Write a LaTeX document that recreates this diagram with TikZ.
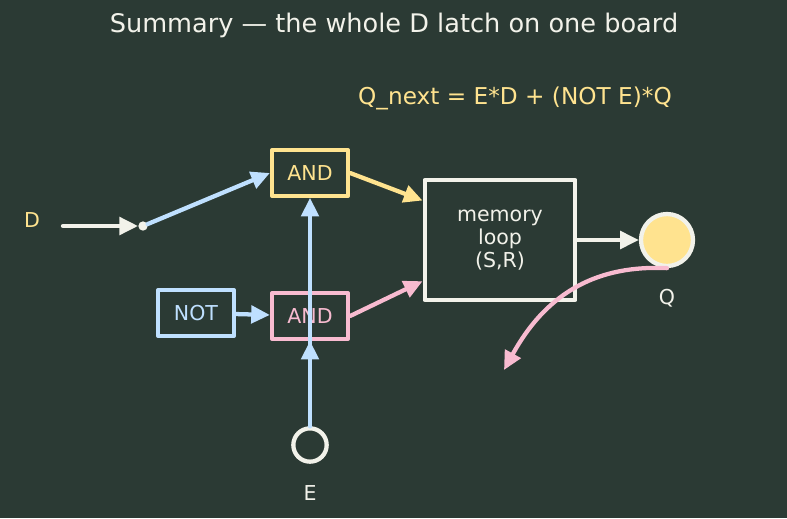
\documentclass[tikz,border=0pt]{standalone}
\usepackage{fontspec}
\setmainfont{DejaVu Sans}
\usetikzlibrary{arrows.meta}
\definecolor{board}{HTML}{2B3A34}
\definecolor{chalk}{HTML}{F2F2EA}
\definecolor{wire}{HTML}{BFE0FF}
\definecolor{gold}{HTML}{FFE38F}
\definecolor{rose}{HTML}{F8BBD0}
\tikzset{
  gate/.style={draw,line width=3.2pt,minimum width=57pt,minimum height=34pt,inner sep=0pt},
  lead/.style={line width=3.2pt,-{Triangle[length=14pt,width=13pt]}},
  lbl/.style={font=\fontsize{15.4}{17.3}\selectfont},
}
\begin{document}
\begin{tikzpicture}[x=0.75pt,y=-0.75pt,line join=round,line cap=round,lbl]
  \fill[board] (0,0) rectangle (787,518);
  \useasboundingbox (0,0) rectangle (787,518);
  % texts
  \node[text=chalk,font=\fontsize{19.2}{22}\selectfont] (title) at (394,25) {Summary — the whole D latch on one board};
  \node[text=gold,font=\fontsize{17.4}{20}\selectfont] (rule) at (515,98) {Q\_next = E*D + (NOT E)*Q};
  \node[text=gold] (dLbl) at (32,220) {D};
  % gates
  \node[gate,draw=gold,text=gold] (andD) at (310,173) {AND};
  \node[gate,draw=rose,text=rose] (andQ) at (310,316) {AND};
  \node[gate,draw=wire,text=wire] (inv) at (196,313) {NOT};
  \node[draw=chalk,line width=3.2pt,minimum width=113pt,minimum height=90pt,align=center,text=chalk] (mem) at (500,240) {memory\\loop\\(S,R)};
  \node[circle,draw=chalk,fill=gold,line width=3.2pt,minimum size=39pt,inner sep=0pt] (qOut) at (667,240) {};
  \node[text=chalk] (qLbl) at (667,298) {Q};
  \node[circle,draw=chalk,line width=3.2pt,minimum size=25pt,inner sep=0pt] (en) at (310,445) {};
  \node[text=chalk] (eLbl) at (310,493) {E};
  \node[circle,fill=chalk,inner sep=0pt,minimum size=7pt] (split) at (143,226) {};
  \path (63,226) coordinate (dIn)
        (504,370) coordinate (back);
  % wires
  \draw[lead,chalk] (dIn) -- (split);
  \draw[lead,wire] (split) -- (andD.west);
  \draw[lead,wire] (inv) -- (andQ);
  \draw[lead,wire] (en.north) -- (andD.south);
  \draw[lead,wire] (en.north) -- (andQ.south);
  \draw[lead,gold] (andD.east) -- (mem.153);
  \draw[lead,rose] (andQ.east) -- (mem.208);
  \draw[lead,chalk] (mem.east) -- (qOut.west);
  \draw[lead,rose] (qOut.south) .. controls (600,265) and (548,290) .. (back);
\end{tikzpicture}
\end{document}
